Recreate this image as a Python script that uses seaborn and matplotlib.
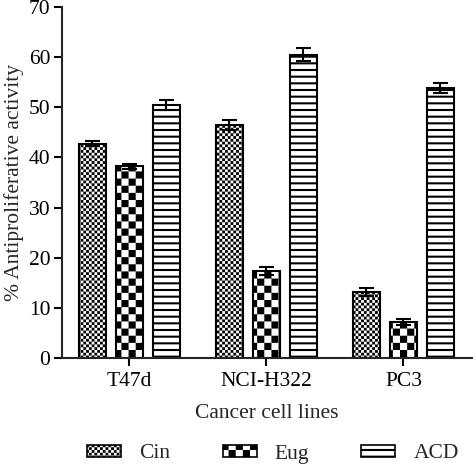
import warnings
warnings.filterwarnings("ignore")
import numpy as np
import pandas as pd
import matplotlib
matplotlib.use("Agg")
import matplotlib.pyplot as plt
import matplotlib.hatch as mhatch
from matplotlib.path import Path
import seaborn as sns

# ---- data ----
cell_lines = ["T47d", "NCI-H322", "PC3"]
treatments = ["Cin", "Eug", "ACD"]
cin = [42.7, 46.5, 13.2]
eug = [38.2, 17.3, 7.2]
acd = [50.5, 60.5, 53.8]
cin_err = [0.5, 1.0, 0.8]
eug_err = [0.5, 0.8, 0.6]
acd_err = [1.0, 1.3, 1.0]
y_ticks = [0, 10, 20, 30, 40, 50, 60, 70]
x_label = "Cancer cell lines"
y_label = "% Antiproliferative activity"

DPI = 100
HATCH_LW = 1.5  # points


# ---- custom hatch patterns (checkerboards and dense horizontal lines) ----
class _Checker(mhatch.HatchPatternBase):
    char = "k"
    cells = 14

    def __init__(self, hatch, density):
        n = self.cells
        if hatch is not None and self.char in hatch:
            self.squares = [(i, j) for i in range(n) for j in range(n) if (i + j) % 2 == 0]
        else:
            self.squares = []
        self.num_vertices = 5 * len(self.squares)

    def set_vertices_and_codes(self, vertices, codes):
        n = self.cells
        s = 1.0 / n
        sh = (HATCH_LW * DPI / 72.0) / 2.0 / DPI
        for k, (i, j) in enumerate(self.squares):
            x0, y0 = i * s + sh, j * s + sh
            x1, y1 = (i + 1) * s - sh, (j + 1) * s - sh
            vertices[5 * k:5 * k + 5] = [(x0, y0), (x1, y0), (x1, y1), (x0, y1), (x0, y0)]
            codes[5 * k:5 * k + 5] = [Path.MOVETO, Path.LINETO, Path.LINETO,
                                      Path.LINETO, Path.CLOSEPOLY]


class _FineChecker(_Checker):
    char = "c"
    cells = 36


class _HLines(mhatch.HatchPatternBase):
    char = "h"
    lines = 15

    def __init__(self, hatch, density):
        self.on = hatch is not None and self.char in hatch
        self.num_vertices = 2 * self.lines if self.on else 0

    def set_vertices_and_codes(self, vertices, codes):
        steps, step = np.linspace(0.0, 1.0, self.lines, False, retstep=True)
        steps += step / 2.0
        vertices[0::2, 0] = 0.0
        vertices[0::2, 1] = steps
        vertices[1::2, 0] = 1.0
        vertices[1::2, 1] = steps
        codes[0::2] = Path.MOVETO
        codes[1::2] = Path.LINETO


mhatch._hatch_types.extend([_Checker, _FineChecker, _HLines])

# ---- style ----
sns.set_style("ticks")
plt.rcParams["font.family"] = ["Liberation Serif", "DejaVu Serif"]
plt.rcParams["hatch.linewidth"] = HATCH_LW
plt.rcParams["hatch.color"] = "black"

df = pd.DataFrame({
    "Cell line": cell_lines * 3,
    "Treatment": np.repeat(treatments, len(cell_lines)),
    "Activity": cin + eug + acd,
})
errors = [cin_err, eug_err, acd_err]
hatches = ["c", "k", "h"]

fig = plt.figure(figsize=(4.73, 4.67), dpi=DPI)
ax = fig.add_axes([62 / 473, 1 - 358 / 467, (472 - 62) / 473, (358 - 7) / 467])

sns.barplot(data=df, x="Cell line", y="Activity", hue="Treatment",
            order=cell_lines, hue_order=treatments,
            palette=["white"] * 3, edgecolor="black", linewidth=1.5,
            width=0.81, gap=0.27, errorbar=None, legend=False, ax=ax)

for cont, h, err in zip(ax.containers, hatches, errors):
    for p in cont:
        p.set_hatch(h)
        p.set_facecolor("white")
        p.set_edgecolor("black")
    xs = [p.get_x() + p.get_width() / 2 for p in cont]
    ys = [p.get_height() for p in cont]
    ax.errorbar(xs, ys, yerr=err, fmt="none", ecolor="black",
                elinewidth=1.5, capsize=5.4, capthick=1.5, zorder=5)

ax.set_ylim(0, 70)
ax.set_yticks(y_ticks)
ax.set_xlim(-0.49, 2.50)
for s in ["top", "right"]:
    ax.spines[s].set_visible(False)
for s in ["left", "bottom"]:
    ax.spines[s].set_linewidth(1.5)
ax.tick_params(axis="y", length=5.8, width=1.5, labelsize=15.5, pad=2.5, colors="black")
ax.tick_params(axis="x", length=6, width=1.5, labelsize=15.5, pad=4, colors="black")

ax.set_xlabel(x_label, fontsize=15.5)
ax.set_ylabel(y_label, fontsize=15.5)
ax.xaxis.set_label_coords(0.5, -0.13)
ax.yaxis.set_label_coords(-0.092, 0.5)

leg = fig.legend(handles=list(ax.containers), labels=treatments, ncol=3, frameon=False,
                 fontsize=15.5, handlelength=1.58, handleheight=0.5,
                 handletextpad=0.84, columnspacing=2.42, borderpad=0.1,
                 loc="center", bbox_to_anchor=(273 / 473, 1 - 454 / 467))
for hnd in leg.legend_handles:
    hnd.set_linewidth(1.2)

fig.savefig("out.png", dpi=DPI)
